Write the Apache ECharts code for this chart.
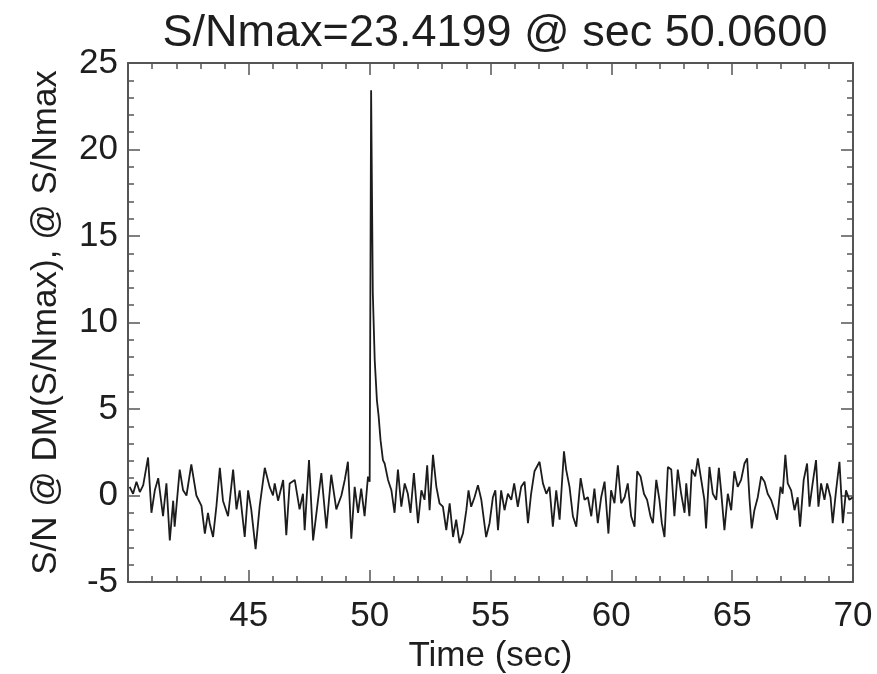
<!DOCTYPE html>
<html>
<head>
<meta charset="utf-8">
<script src="https://cdn.jsdelivr.net/npm/echarts@6/dist/echarts.min.js"></script>
<style>
html,body{margin:0;padding:0;background:#fff;}
#chart{width:877px;height:674px;}
</style>
</head>
<body>
<div id="chart"></div>
<script>
var titleText = 'S/Nmax=23.4199 @ sec 50.0600';
var xName = 'Time (sec)';
var yName = 'S/N @ DM(S/Nmax), @ S/Nmax';
var xTicks = [45, 50, 55, 60, 65, 70];
var yTicks = [-5, 0, 5, 10, 15, 20, 25];

var times = [
40.07,40.21,40.35,40.49,40.63,40.83,40.97,41.11,41.25,41.45,41.59,41.73,41.87,41.93,42.14,42.28,42.42,42.62,42.83,43.04,
43.18,43.31,43.38,43.52,43.66,43.80,43.93,44.14,44.35,44.49,44.62,44.83,44.97,45.10,45.28,45.45,45.66,45.86,46.00,46.07,
46.21,46.42,46.55,46.69,46.90,47.10,47.24,47.31,47.49,47.66,47.86,48.00,48.21,48.41,48.62,48.83,48.97,49.10,49.24,49.38,
49.52,49.65,49.79,49.93,50.00,50.06,50.13,50.21,50.30,50.37,50.45,50.55,50.62,50.76,50.90,51.03,51.17,51.31,51.45,51.58,
51.69,51.83,52.00,52.14,52.27,52.38,52.48,52.62,52.76,52.89,53.03,53.17,53.31,53.45,53.58,53.72,53.86,54.00,54.09,54.20,
54.34,54.48,54.62,54.82,54.96,55.10,55.20,55.31,55.44,55.58,55.72,55.86,55.98,56.13,56.27,56.41,56.55,56.68,56.82,57.03,
57.17,57.31,57.44,57.58,57.72,57.86,58.04,58.13,58.27,58.41,58.55,58.73,58.89,59.03,59.17,59.30,59.44,59.58,59.72,59.88,
59.99,60.13,60.27,60.41,60.55,60.68,60.82,60.96,61.07,61.21,61.35,61.48,61.62,61.72,61.86,61.99,62.09,62.20,62.34,62.48,
62.61,62.75,62.89,63.03,63.10,63.23,63.33,63.47,63.58,63.72,63.85,63.92,64.06,64.20,64.34,64.45,64.54,64.68,64.82,64.96,
65.09,65.23,65.37,65.51,65.62,65.72,65.81,65.92,66.06,66.20,66.34,66.47,66.61,66.75,66.86,67.00,67.09,67.20,67.30,67.44,
67.58,67.71,67.81,67.96,68.10,68.20,68.33,68.47,68.57,68.68,68.82,68.93,69.07,69.16,69.30,69.44,69.58,69.71,69.85,69.99
];
var snr = [
0.5,0.1,0.8,0.2,0.6,2.2,-1.0,0.3,1.0,-1.2,0.7,-2.6,-0.3,-1.8,1.5,0.3,0.0,1.8,0.0,-0.6,
-2.2,-1.0,-1.6,-2.4,-0.6,1.6,-0.3,-1.2,1.5,-0.8,0.3,-2.4,0.3,-0.8,-3.1,-0.6,1.6,0.5,0.0,0.7,
-0.3,0.9,-2.3,0.7,0.9,-0.8,0.1,-2.0,2.05,-2.6,-0.3,1.3,-1.9,1.2,-0.8,0.0,0.9,1.95,-2.5,0.5,
-1.0,0.4,-1.2,1.1,0.8,23.42,11.7,7.8,5.5,4.6,3.2,2.05,1.85,0.9,0.3,-1.0,1.5,-0.65,0.7,0.1,
-1.0,1.3,-1.6,0.3,-0.25,1.75,-0.85,2.35,0.5,-0.45,-0.65,-2.0,-0.45,-2.4,-1.4,-2.75,-2.2,-0.85,0.3,-0.65,
-0.1,0.6,-0.25,-2.4,-1.6,-0.1,0.3,-2.0,0.3,-0.85,0.1,-0.25,0.7,-0.65,0.5,0.8,-1.6,0.1,1.4,1.95,
0.7,0.1,0.5,-1.8,0.3,-1.4,2.55,1.5,0.5,-1.2,-1.8,1.0,-0.25,-0.1,-1.2,0.4,-1.6,-0.1,0.8,-2.2,
0.3,-0.45,1.75,-0.45,-0.1,0.7,-1.2,-1.8,1.4,1.1,0.1,-0.25,-1.2,-1.6,0.9,-0.25,-1.6,-2.4,1.65,1.5,
-1.2,1.5,0.1,-1.0,0.7,-1.2,1.5,1.1,2.15,0.9,-0.25,-1.9,1.65,0.1,-0.25,1.6,0.3,-2.0,0.1,-0.85,
1.4,0.5,0.9,1.85,2.15,-0.25,-1.9,-0.85,-0.1,1.1,0.8,0.1,-0.25,-0.85,-1.4,0.5,0.1,2.35,0.7,0.3,
-0.85,-0.1,-1.8,0.9,1.85,-0.65,0.7,2.05,-0.65,0.7,-0.25,0.7,-0.1,-1.6,0.3,1.95,-1.6,0.3,-0.25,-0.1
];

var seriesData = times.map(function (t, i) { return [t, snr[i]]; });

var FONT = '"Liberation Sans", Arial, Helvetica, sans-serif';
var axisCol = '#555555';
var txtCol = '#1e1e1e';

function xAx(pos, main) {
  return {
    type: 'value', position: pos, min: 40, max: 70, interval: 5,
    axisLine: { show: true, onZero: false, lineStyle: { color: axisCol, width: 2 } },
    axisTick: { show: true, inside: true, length: 12, lineStyle: { color: axisCol, width: 1.5 } },
    minorTick: { show: true, splitNumber: 5, length: 6, lineStyle: { color: axisCol, width: 1.5 } },
    splitLine: { show: false },
    axisLabel: main ? {
      show: true, showMinLabel: false, fontSize: 35, margin: 17, color: txtCol, fontFamily: FONT,
      formatter: function (v) { return xTicks.indexOf(v) >= 0 ? String(v) : ''; }
    } : { show: false },
    name: main ? xName : '', nameLocation: 'middle', nameGap: 53,
    nameTextStyle: { fontSize: 35, color: txtCol, fontFamily: FONT }
  };
}
function yAx(pos, main) {
  return {
    type: 'value', position: pos, min: -5, max: 25, interval: 5,
    axisLine: { show: true, onZero: false, lineStyle: { color: axisCol, width: 2 } },
    axisTick: { show: true, inside: true, length: 12, lineStyle: { color: axisCol, width: 1.5 } },
    minorTick: { show: true, splitNumber: 5, length: 6, lineStyle: { color: axisCol, width: 1.5 } },
    splitLine: { show: false },
    axisLabel: main ? {
      show: true, fontSize: 35, margin: 10, color: txtCol, fontFamily: FONT,
      formatter: function (v) { return yTicks.indexOf(v) >= 0 ? String(v) : ''; }
    } : { show: false },
    name: main ? yName : '', nameLocation: 'middle', nameGap: 64,
    nameTextStyle: { fontSize: 35, color: txtCol, fontFamily: FONT }
  };
}

var chart = echarts.init(document.getElementById('chart'), null, { renderer: 'canvas' });
chart.setOption({
  animation: false,
  backgroundColor: '#ffffff',
  title: {
    text: titleText, left: 490, top: 6, textAlign: 'center',
    textStyle: { fontSize: 45, fontWeight: 'normal', color: txtCol, fontFamily: FONT }
  },
  grid: { left: 128, right: 24, top: 63, bottom: 92, containLabel: false, outerBoundsMode: 'none' },
  xAxis: [xAx('bottom', true), xAx('top', false)],
  yAxis: [yAx('left', true), yAx('right', false)],
  series: [{
    type: 'line', xAxisIndex: 0, yAxisIndex: 0,
    data: seriesData, showSymbol: false, symbol: 'none',
    lineStyle: { color: '#1c1c1c', width: 1.8 }
  }]
});
</script>
</body>
</html>
